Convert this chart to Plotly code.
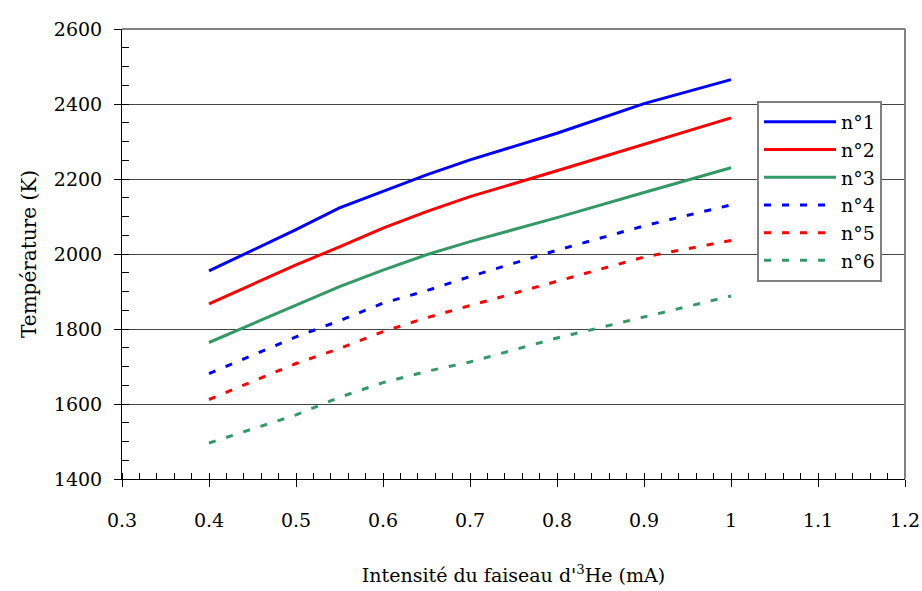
import plotly.graph_objects as go

intensite = [0.4, 0.5, 0.55, 0.6, 0.65, 0.7, 0.8, 0.9, 1.0]
serie_1 = [1955, 2065, 2123, 2168, 2211, 2251, 2322, 2401, 2465]
serie_2 = [1867, 1971, 2019, 2069, 2113, 2153, 2222, 2292, 2363]
serie_3 = [1764, 1863, 1913, 1957, 1998, 2033, 2097, 2164, 2230]
serie_4 = [1681, 1779, 1822, 1869, 1902, 1940, 2010, 2075, 2131]
serie_5 = [1612, 1708, 1748, 1793, 1830, 1862, 1926, 1992, 2036]
serie_6 = [1496, 1571, 1618, 1657, 1687, 1712, 1776, 1833, 1888]
noms = ["n°1", "n°2", "n°3", "n°4", "n°5", "n°6"]
x_ticks = [0.3, 0.4, 0.5, 0.6, 0.7, 0.8, 0.9, 1.0, 1.1, 1.2]
x_labels = ["0.3", "0.4", "0.5", "0.6", "0.7", "0.8", "0.9", "1", "1.1", "1.2"]
couleurs = ["#0000FF", "#FF0000", "#339966", "#0000FF", "#FF0000", "#339966"]
tirets = ["solid", "solid", "solid", "7px,11px", "7px,11px", "7px,11px"]

series = [serie_1, serie_2, serie_3, serie_4, serie_5, serie_6]

serif = "DejaVu Serif"

fig = go.Figure()
for nom, ys, c, d in zip(noms, series, couleurs, tirets):
    fig.add_trace(go.Scatter(x=intensite, y=ys, mode="lines", name=nom,
                             line=dict(color=c, width=3, dash=d)))

fig.update_layout(
    width=922, height=591,
    margin=dict(l=122, r=17, t=29, b=112, autoexpand=False),
    paper_bgcolor="white", plot_bgcolor="white",
    font=dict(family=serif, size=19, color="black"),
    showlegend=True,
    legend=dict(x=0.811, y=0.84, xanchor="left", yanchor="top",
                bgcolor="white", bordercolor="#808080", borderwidth=2,
                font=dict(family=serif, size=19), tracegroupgap=0,
                itemwidth=72),
    xaxis=dict(range=[0.3, 1.2], tickvals=x_ticks, ticktext=x_labels,
               showgrid=False, zeroline=False, automargin=False,
               showline=True, linecolor="black", linewidth=1,
               ticks="outside", ticklen=7, tickcolor="black",
               ticklabelstandoff=17, ticklabeloverflow="allow",
               minor=dict(dtick=0.02, tick0=0.3, ticks="inside", ticklen=6, tickcolor="black", showgrid=False),
               tickfont=dict(family=serif, size=19),
               title=dict(text="Intensité du faiseau d'<sup>3</sup>He (mA)",
                          font=dict(family=serif, size=19), standoff=38)),
    yaxis=dict(range=[1400, 2600], dtick=200, automargin=False,
               showgrid=True, gridcolor="#444444", gridwidth=1, zeroline=False,
               showline=True, linecolor="black", linewidth=1,
               ticks="outside", ticklen=7, tickcolor="black",
               ticklabelstandoff=8,
               minor=dict(dtick=50, ticks="inside", ticklen=7, tickcolor="black", showgrid=False),
               tickfont=dict(family=serif, size=19),
               title=dict(text="Température (K)", font=dict(family=serif, size=20), standoff=11)),
    shapes=[
        dict(type="line", xref="paper", yref="paper", x0=0, x1=1, y0=1, y1=1,
             line=dict(color="#808080", width=2)),
        dict(type="line", xref="paper", yref="paper", x0=1, x1=1, y0=0, y1=1,
             line=dict(color="#808080", width=2)),
    ],
)

fig.write_html("out.html", config={"displayModeBar": False},
               post_script="document.body.style.margin='0';document.body.style.overflow='hidden';")
